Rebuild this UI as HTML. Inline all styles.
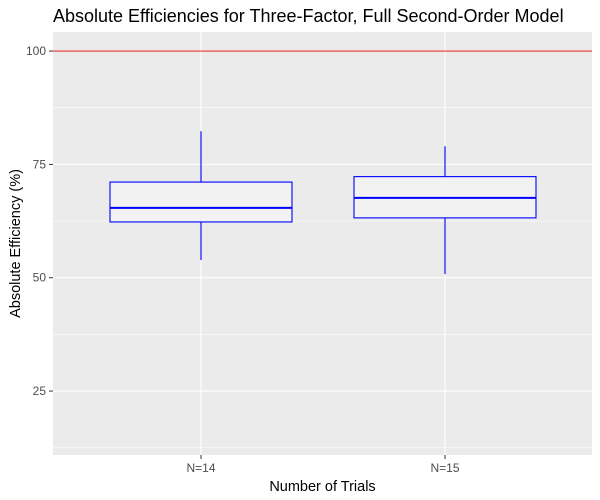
<!DOCTYPE html>
<html><head><meta charset="utf-8"><style>body{margin:0;background:#fff}svg{display:block}text{font-family:"Liberation Sans",sans-serif}</style></head>
<body>
<svg id="c" width="600" height="500"></svg>
<script>
const categories = ["N=14","N=15"];
const whiskerLow = [53.9, 50.8];
const q1 = [62.3, 63.2];
const medians = [65.4, 67.6];
const q3 = [71.1, 72.3];
const whiskerHigh = [82.3, 79.0];
const yTicks = [25, 50, 75, 100];
const yMinor = [12.5, 37.5, 62.5, 87.5];
const refLine = 100;

const svg = document.getElementById('c');
const NS = 'http://www.w3.org/2000/svg';
const L=53,R=592,T=32,B=455;
const yMin=10.9,yMax=104.2;
const y = v => B - (v - yMin)/(yMax - yMin)*(B-T);
const step = 244;
const x = i => 201 + step*i;
function mk(tag, attrs, parent){const e=document.createElementNS(NS,tag);for(const k in attrs)e.setAttribute(k,attrs[k]);(parent||svg).appendChild(e);return e;}

const panel = mk('rect',{x:L,y:T,width:R-L,height:B-T,fill:'#ebebeb'});


yMinor.forEach(v=>{const l=mk('line',{x1:L,x2:R,y1:y(v),y2:y(v),stroke:'#fff','stroke-width':0.6});

});
yTicks.forEach(v=>{const l=mk('line',{x1:L,x2:R,y1:y(v),y2:y(v),stroke:'#fff','stroke-width':1.1});


const t=mk('text',{x:L-7,y:y(v)+4,'text-anchor':'end','font-size':12,fill:'#4d4d4d'});t.textContent=v;


mk('line',{x1:L-4,x2:L,y1:y(v),y2:y(v),stroke:'#333'});});
categories.forEach((c,i)=>{const l=mk('line',{x1:x(i),x2:x(i),y1:T,y2:B,stroke:'#fff','stroke-width':1.1});


mk('line',{x1:x(i),x2:x(i),y1:B,y2:B+4,stroke:'#333'});
const t=mk('text',{x:x(i),y:B+17,'text-anchor':'middle','font-size':12,fill:'#4d4d4d'});t.textContent=c;

});
const hl=mk('line',{x1:L,x2:R,y1:y(refLine),y2:y(refLine),stroke:'#e00000','stroke-width':0.9});


const bw = 182;
categories.forEach((c,i)=>{const g=mk('g',{});


mk('line',{x1:x(i),x2:x(i),y1:y(whiskerHigh[i]),y2:y(q3[i]),stroke:'#00f','stroke-width':1.1},g);
mk('line',{x1:x(i),x2:x(i),y1:y(q1[i]),y2:y(whiskerLow[i]),stroke:'#00f','stroke-width':1.1},g);
mk('rect',{x:x(i)-bw/2,y:y(q3[i]),width:bw,height:y(q1[i])-y(q3[i]),fill:'#f2f2f2',stroke:'#00f','stroke-width':1.1},g);
mk('line',{x1:x(i)-bw/2,x2:x(i)+bw/2,y1:y(medians[i]),y2:y(medians[i]),stroke:'#00f','stroke-width':2},g);});
const tt=mk('text',{x:53,y:22,'font-size':18,fill:'#000'});tt.textContent='Absolute Efficiencies for Three-Factor, Full Second-Order Model';


const xt=mk('text',{x:(L+R)/2,y:491,'text-anchor':'middle','font-size':14.5});xt.textContent='Number of Trials';


const yt=mk('text',{x:0,y:0,'text-anchor':'middle','font-size':14.5,transform:`translate(20,${(T+B)/2}) rotate(-90)`});yt.textContent='Absolute Efficiency (%)';


</script>
</body></html>
